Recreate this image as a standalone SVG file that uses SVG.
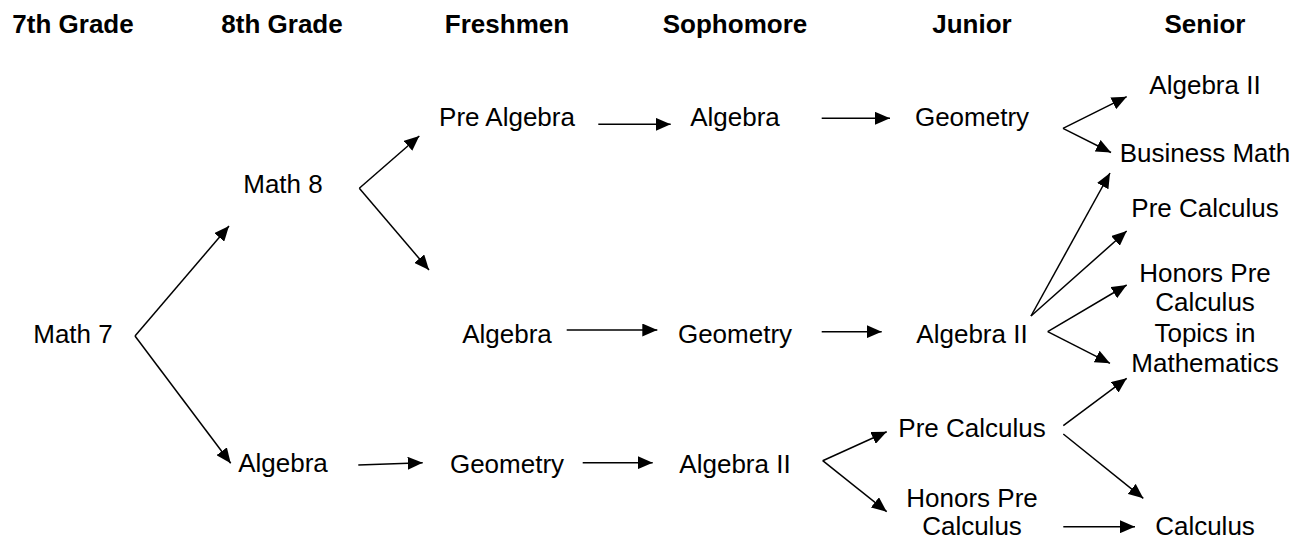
<svg xmlns="http://www.w3.org/2000/svg" width="1295" height="540" viewBox="0 0 1295 540">
<style>
text{font-family:"Liberation Sans",Arial,sans-serif;font-size:26px;fill:#000;text-anchor:middle}
.h{font-weight:bold}
.c line{stroke:#000;stroke-width:1.5;marker-end:url(#ah)}
</style>
<defs>
<marker id="ah" markerUnits="userSpaceOnUse" markerWidth="16" markerHeight="13" refX="15" refY="6.5" orient="auto" viewBox="0 0 16 13">
<path d="M0,0 L15,6.5 L0,13 z" fill="#000"/>
</marker>
</defs>
<rect width="1295" height="540" fill="#fff"/>
<g id="headers">
<text class="h" x="73" y="33">7th Grade</text>
<text class="h" x="282" y="33">8th Grade</text>
<text class="h" x="507" y="33">Freshmen</text>
<text class="h" x="735" y="33">Sophomore</text>
<text class="h" x="972" y="33">Junior</text>
<text class="h" x="1205" y="33">Senior</text>
</g>
<g id="math7"><text x="73" y="343">Math 7</text></g>
<g id="math8"><text x="283" y="193">Math 8</text></g>
<g id="algebra8"><text x="283" y="472">Algebra</text></g>
<g id="prealgebra9"><text x="507" y="126">Pre Algebra</text></g>
<g id="algebra9"><text x="507" y="343">Algebra</text></g>
<g id="geometry9"><text x="507" y="473">Geometry</text></g>
<g id="algebra10"><text x="735" y="126">Algebra</text></g>
<g id="geometry10"><text x="735" y="343">Geometry</text></g>
<g id="algebra2_10"><text x="735" y="473">Algebra II</text></g>
<g id="geometry11"><text x="972" y="126">Geometry</text></g>
<g id="algebra2_11"><text x="972" y="343">Algebra II</text></g>
<g id="precalc11"><text x="972" y="437">Pre Calculus</text></g>
<g id="honprecalc11"><text x="972" y="506.5">Honors Pre</text><text x="972" y="535">Calculus</text></g>
<g id="algebra2_12"><text x="1205" y="94">Algebra II</text></g>
<g id="business12"><text x="1205" y="161.5">Business Math</text></g>
<g id="precalc12"><text x="1205" y="216.5">Pre Calculus</text></g>
<g id="honprecalc12"><text x="1205" y="281.5">Honors Pre</text><text x="1205" y="311">Calculus</text></g>
<g id="topics12"><text x="1205" y="341.5">Topics in</text><text x="1205" y="371.5">Mathematics</text></g>
<g id="calculus12"><text x="1205" y="535">Calculus</text></g>
<g id="connectors" class="c">
<line x1="135" y1="336" x2="229" y2="226"/>
<line x1="135" y1="336" x2="230.7" y2="463.3"/>
<line x1="359.3" y1="188.3" x2="419.3" y2="136"/>
<line x1="359.3" y1="188.3" x2="429" y2="270"/>
<line x1="358.3" y1="465" x2="422.7" y2="462.7"/>
<line x1="598.3" y1="124.3" x2="670.7" y2="124.3"/>
<line x1="821.7" y1="118.3" x2="890" y2="118.3"/>
<line x1="1063" y1="128.3" x2="1126.7" y2="96.7"/>
<line x1="1063" y1="128.3" x2="1111" y2="152.5"/>
<line x1="566.7" y1="330" x2="657.3" y2="330"/>
<line x1="821.7" y1="331.7" x2="881.7" y2="331.7"/>
<line x1="1031" y1="316" x2="1110" y2="173"/>
<line x1="1031" y1="316" x2="1126.7" y2="231"/>
<line x1="1047.7" y1="331.7" x2="1126.7" y2="285"/>
<line x1="1047.7" y1="331.7" x2="1110" y2="363.3"/>
<line x1="582.7" y1="462.7" x2="652.7" y2="462.7"/>
<line x1="822.7" y1="460.7" x2="886.7" y2="431.7"/>
<line x1="822.7" y1="460.7" x2="886.7" y2="511.7"/>
<line x1="1063.3" y1="425.7" x2="1126.7" y2="378.3"/>
<line x1="1063.3" y1="434" x2="1143.3" y2="498.3"/>
<line x1="1063.3" y1="526.7" x2="1135" y2="526.7"/>
</g>
</svg>
